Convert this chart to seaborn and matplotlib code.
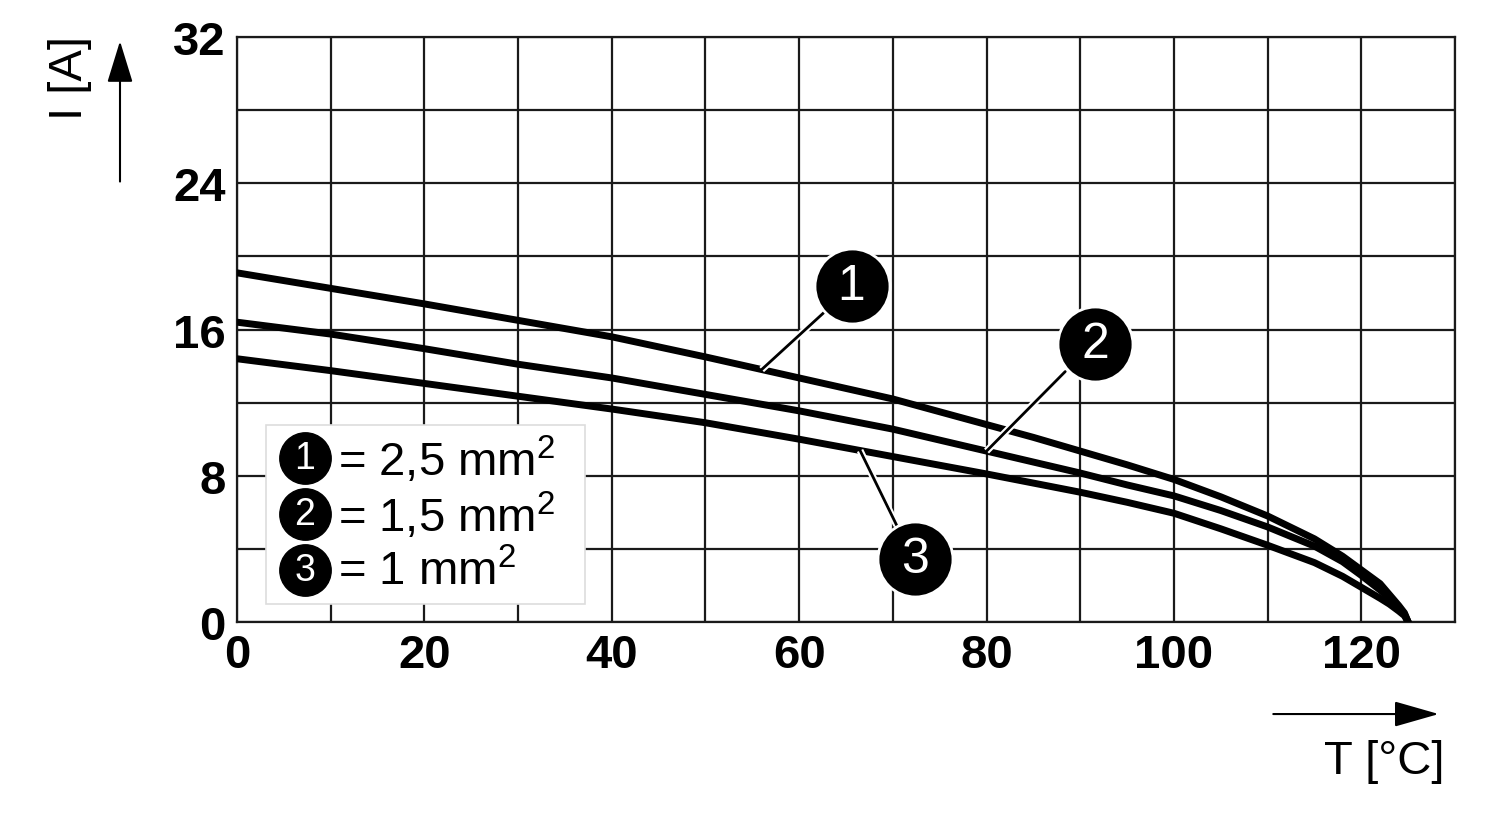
import numpy as np
import pandas as pd
import matplotlib
matplotlib.use("Agg")
import matplotlib.pyplot as plt
from matplotlib.ticker import MultipleLocator
from matplotlib.patches import Rectangle, FancyArrowPatch
import seaborn as sns

# ---- data ----
temp = [0, 10, 20, 30, 40, 50, 60, 70, 80, 85, 90, 95, 100, 105, 110, 115, 118, 120, 122, 123, 124, 124.6, 125]
i_25 = [19.1, 18.25, 17.4, 16.5, 15.6, 14.5, 13.35, 12.2, 10.8, 10.1, 9.35, 8.6, 7.8, 6.85, 5.8, 4.55,
        3.6, 2.85, 2.1, 1.5, 0.9, 0.5, 0]
i_15 = [16.4, 15.75, 14.95, 14.1, 13.35, 12.45, 11.55, 10.55, 9.35, 8.75, 8.15, 7.5, 6.9, 6.1, 5.2, 4.15,
        3.3, 2.55, 1.75, 1.3, 0.8, 0.45, 0]
i_10 = [14.4, 13.75, 13.05, 12.35, 11.65, 10.9, 10.0, 9.05, 8.1, 7.6, 7.1, 6.55, 5.95, 5.1, 4.2, 3.25,
        2.5, 1.9, 1.3, 0.98, 0.6, 0.35, 0]
series_ids = ["1", "2", "3"]
legend_labels = ["= 2,5 mm$^{2}$", "= 1,5 mm$^{2}$", "= 1 mm$^{2}$"]

x_ticks = [0, 20, 40, 60, 80, 100, 120]
y_ticks = [0, 8, 16, 24, 32]

df = pd.concat([
    pd.DataFrame({"T": temp, "I": vals, "id": sid})
    for sid, vals in zip(series_ids, [i_25, i_15, i_10])
])

sns.set_style("white")
plt.rcParams["font.family"] = ["Liberation Sans", "DejaVu Sans"]
plt.rcParams["mathtext.default"] = "regular"
plt.rcParams["text.color"] = "black"
plt.rcParams["xtick.color"] = "black"
plt.rcParams["ytick.color"] = "black"

fig = plt.figure(figsize=(15, 8.2), dpi=100)
ax = fig.add_axes([0.158, 0.2402, 0.812, 0.7135])

sns.lineplot(data=df, x="T", y="I", hue="id", palette=["black"] * 3,
             linewidth=5.0, legend=False, ax=ax, estimator=None,
             solid_capstyle="round", solid_joinstyle="round", zorder=5)

ax.set_xlim(0, 130)
ax.set_ylim(0, 32)
ax.xaxis.set_minor_locator(MultipleLocator(10))
ax.yaxis.set_minor_locator(MultipleLocator(4))
ax.set_xticks(x_ticks)
ax.set_yticks(y_ticks)
ax.set_xticklabels([str(v) for v in x_ticks], fontsize=34, fontweight="bold", color="black")
ax.set_yticklabels([str(v) for v in y_ticks], fontsize=34, fontweight="bold", color="black")
ax.tick_params(which="both", length=0, pad=8)
ax.grid(True, which="both", color="#1a1a1a", linewidth=1.6)
for s in ax.spines.values():
    s.set_color("#1a1a1a")
    s.set_linewidth(1.6)
ax.set_xlabel("")
ax.set_ylabel("")

# legend box
ax.add_patch(Rectangle((0.0238, 0.031), 0.262, 0.306, transform=ax.transAxes,
                       facecolor="white", edgecolor="#dddddd", linewidth=1.2, zorder=6))
leg_y = [0.281, 0.185, 0.089]
for sid, lab, yy in zip(series_ids, legend_labels, leg_y):
    ax.plot([0.0557], [yy], marker="o", markersize=37, color="black",
            transform=ax.transAxes, zorder=7, clip_on=False)
    ax.text(0.0557, yy, sid, color="white", fontsize=27, ha="center", va="center",
            transform=ax.transAxes, zorder=8)
    ax.text(0.083, yy - 0.003, lab, color="black", fontsize=34, ha="left", va="center",
            transform=ax.transAxes, zorder=8)

# numbered callouts pointing at curves
callout_circle = [(65.6, 18.4), (91.6, 15.2), (72.4, 3.45)]
callout_start = [(62.8, 17.0), (88.4, 13.7), (70.4, 5.3)]
callout_at_T = [56.0, 80.0, 66.5]
for sid, vals, (cx, cy), (sx, sy), at in zip(series_ids, [i_25, i_15, i_10],
                                              callout_circle, callout_start, callout_at_T):
    ey = np.interp(at, temp, vals)
    ax.plot([sx, at], [sy, ey], color="white", linewidth=5, zorder=9, solid_capstyle="butt")
    ax.plot([sx, at], [sy, ey], color="black", linewidth=2, zorder=10)
    ax.plot([cx], [cy], marker="o", markersize=54, color="black",
            markeredgecolor="white", markeredgewidth=2, zorder=11)
    ax.text(cx, cy, sid, color="white", fontsize=36, ha="center", va="center", zorder=12)

# axis labels with arrows
fig.text(0.047, 0.905, "I [A]", rotation=90, fontsize=34, ha="center", va="center")
fig.text(0.923, 0.071, "T [°C]", fontsize=34, ha="center", va="center")
fig.patches.append(FancyArrowPatch((0.08, 0.774), (0.08, 0.952), transform=fig.transFigure,
                                   arrowstyle="-|>,head_length=1.3,head_width=0.4",
                                   mutation_scale=20, color="black", linewidth=1.5))
fig.patches.append(FancyArrowPatch((0.847, 0.128), (0.961, 0.128), transform=fig.transFigure,
                                   arrowstyle="-|>,head_length=1.4,head_width=0.4",
                                   mutation_scale=20, color="black", linewidth=1.5))

fig.savefig("out.png", dpi=100)
